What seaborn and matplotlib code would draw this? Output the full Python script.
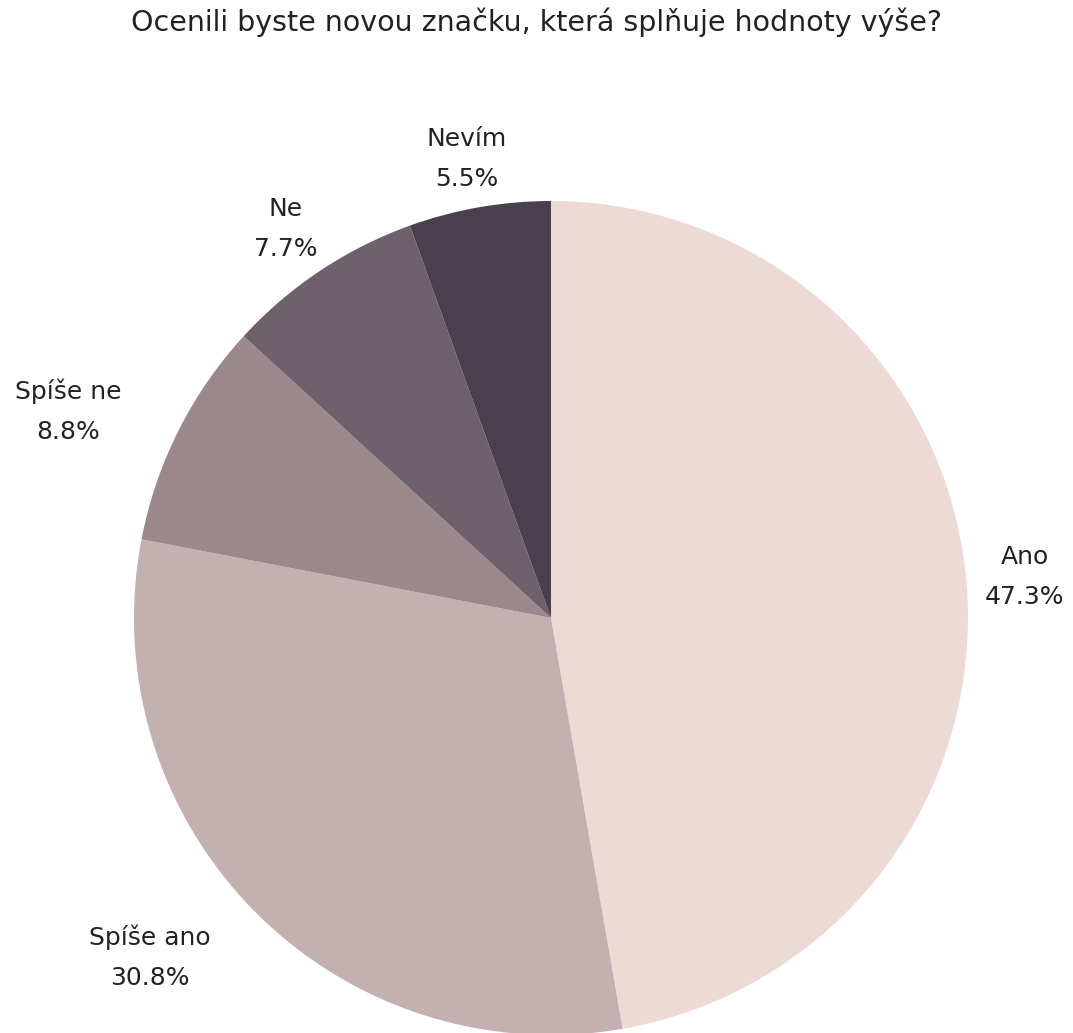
import numpy as np
import matplotlib
matplotlib.use("Agg")
import matplotlib.pyplot as plt
import seaborn as sns

sns.set_theme(style="white")
plt.rcParams["font.family"] = ["DejaVu Sans"]

title = "Ocenili byste novou značku, která splňuje hodnoty výše?"
categories = ["Ano", "Spíše ano", "Spíše ne", "Ne", "Nevím"]
values = [47.3, 30.8, 8.8, 7.7, 5.5]
colors = ["#EEDAD5", "#C4B0B1", "#9C888C", "#6F616B", "#4A404D"]

# label placement: radial distance (in radii) and angular nudge (degrees)
label_dist = [1.14, 1.26, 1.26, 1.13, 1.12]
label_nudge = [0.0, -4.3, 3.5, 0.7, 0.5]

W, H = 1073, 1033
cx, cy, R = 551, 618, 417

fig = plt.figure(figsize=(W / 100, H / 100), dpi=100)
ax = fig.add_axes([0, 0, 1, 1])

wedges, _ = ax.pie(values, colors=colors, startangle=90, counterclock=False,
                   radius=1.0, center=(0, 0), normalize=True,
                   wedgeprops=dict(linewidth=0))
ax.set_xlim(-cx / R, (W - cx) / R)
ax.set_ylim(-(H - cy) / R, cy / R)
ax.set_aspect("equal")
ax.axis("off")

for w, cat, v, d, nud in zip(wedges, categories, values, label_dist, label_nudge):
    mid = np.deg2rad((w.theta1 + w.theta2) / 2 + nud)
    x, y = d * np.cos(mid), d * np.sin(mid)
    ax.text(x, y, f"{cat}\n{v:.1f}%", ha="center", va="center",
            fontsize=18, color="#222222", linespacing=1.85)

fig.text(0.5, 1 - 22 / H, title, ha="center", va="center",
         fontsize=20.5, color="#222222")

fig.savefig("out.png", dpi=100, facecolor="white")
